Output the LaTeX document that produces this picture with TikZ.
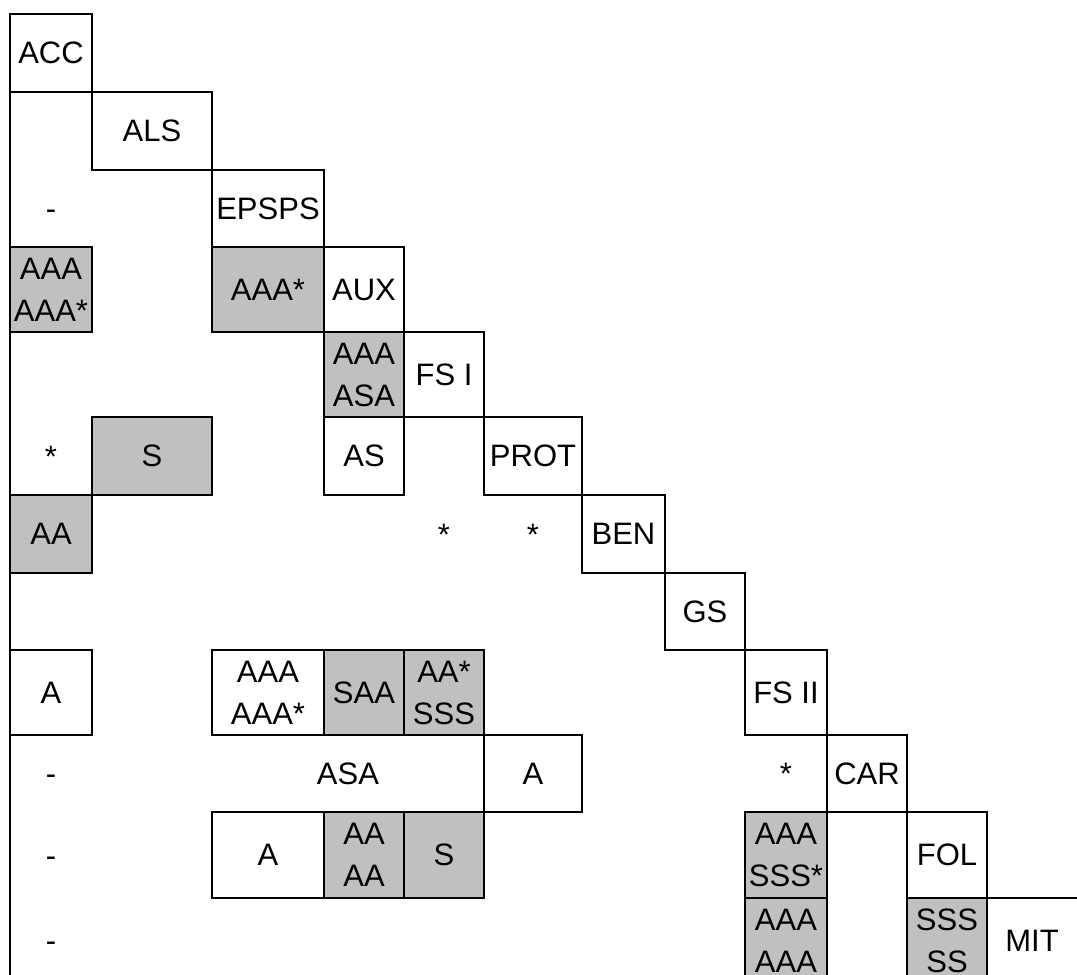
\documentclass[tikz,border=0pt]{standalone}
\usepackage{xcolor}
\usepackage{fontspec}
\setmainfont{Liberation Sans}
\usepackage{tikz}

\begin{document}
\begin{tikzpicture}[x=1pt,y=-1pt,line width=1.4pt]
   \definecolor{cellgray}{RGB}{192,192,192}
   \def\colx{{10,92,212,324,404,484,582,665,745,827,907,987,1077}}
   \def\rowy{{14,92,170,247,332,417,495,573,650,735,812,898,983}}
   \useasboundingbox (0,0) rectangle (1077,975);
   \clip (0,0) rectangle (1077,975);
   \tikzstyle{every node}=[font=\fontsize{31}{42}\selectfont,align=center,inner sep=0pt,outer sep=0pt];
   \tikzstyle{whitebox}=[draw=black,fill=white,shape=rectangle];
   \tikzstyle{graybox}=[draw=black,fill=cellgray,shape=rectangle];
   \tikzstyle{freetext}=[text height=22pt,text depth=0pt];
   % boxed cells
   \foreach \c/\r/\nm/\lab in {0/0/acc/ACC, 1/1/als/ALS, 2/2/epsps/EPSPS, 3/3/aux/AUX, 4/4/fsi/FS I,
         3/5/as/AS, 5/5/prot/PROT, 6/6/ben/BEN, 7/7/gs/GS, 0/8/aleft/A, 2/8/aaa/{AAA\\AAA*},
         8/8/fsii/FS II, 5/9/amid/A, 9/9/car/CAR, 2/10/alow/A, 10/10/fol/FOL} {
      \pgfmathsetmacro{\xl}{\colx[\c]}
      \pgfmathsetmacro{\xr}{\colx[\c+1]}
      \pgfmathsetmacro{\yt}{\rowy[\r]}
      \pgfmathsetmacro{\yb}{\rowy[\r+1]}
      \node[whitebox,minimum width=\xr pt-\xl pt,minimum height=\yb pt-\yt pt] (\nm) at ({(\xl+\xr)/2},{(\yt+\yb)/2}) {\lab};
   }
   \foreach \c/\r/\nm/\lab in {0/3/ga/{AAA\\AAA*}, 2/3/gb/AAA*, 3/4/gc/{AAA\\ASA}, 1/5/gd/S, 0/6/ge/AA,
         3/8/gf/SAA, 4/8/gg/{AA*\\SSS}, 3/10/gh/{AA\\AA}, 4/10/gi/S, 8/10/gj/{AAA\\SSS*},
         8/11/gk/{AAA\\AAA}, 10/11/gl/{SSS\\SS}} {
      \pgfmathsetmacro{\xl}{\colx[\c]}
      \pgfmathsetmacro{\xr}{\colx[\c+1]}
      \pgfmathsetmacro{\yt}{\rowy[\r]}
      \pgfmathsetmacro{\yb}{\rowy[\r+1]}
      \node[graybox,minimum width=\xr pt-\xl pt,minimum height=\yb pt-\yt pt] (\nm) at ({(\xl+\xr)/2},{(\yt+\yb)/2}) {\lab};
   }
   % loose entries
   \foreach \c/\r/\nm/\lab in {0/2/da/-, 0/5/sa/*, 4/6/sb/*, 5/6/sc/*, 0/9/db/-, 8/9/sd/*,
         0/10/dc/-, 0/11/dd/-, 11/11/mit/MIT} {
      \pgfmathsetmacro{\xl}{\colx[\c]}
      \pgfmathsetmacro{\xr}{\colx[\c+1]}
      \pgfmathsetmacro{\yt}{\rowy[\r]}
      \pgfmathsetmacro{\yb}{\rowy[\r+1]}
      \node[freetext] (\nm) at ({(\xl+\xr)/2},{(\yt+\yb)/2}) {\lab};
   }
   \node[freetext] (asa) at (348,773.5) {ASA};
   \coordinate (botleft) at (10,983);
   \coordinate (mitend) at (1077,898);
   \draw (acc.south west) -- (botleft);
   \draw (gl.north east) -- (mitend);
\end{tikzpicture}
\end{document}
